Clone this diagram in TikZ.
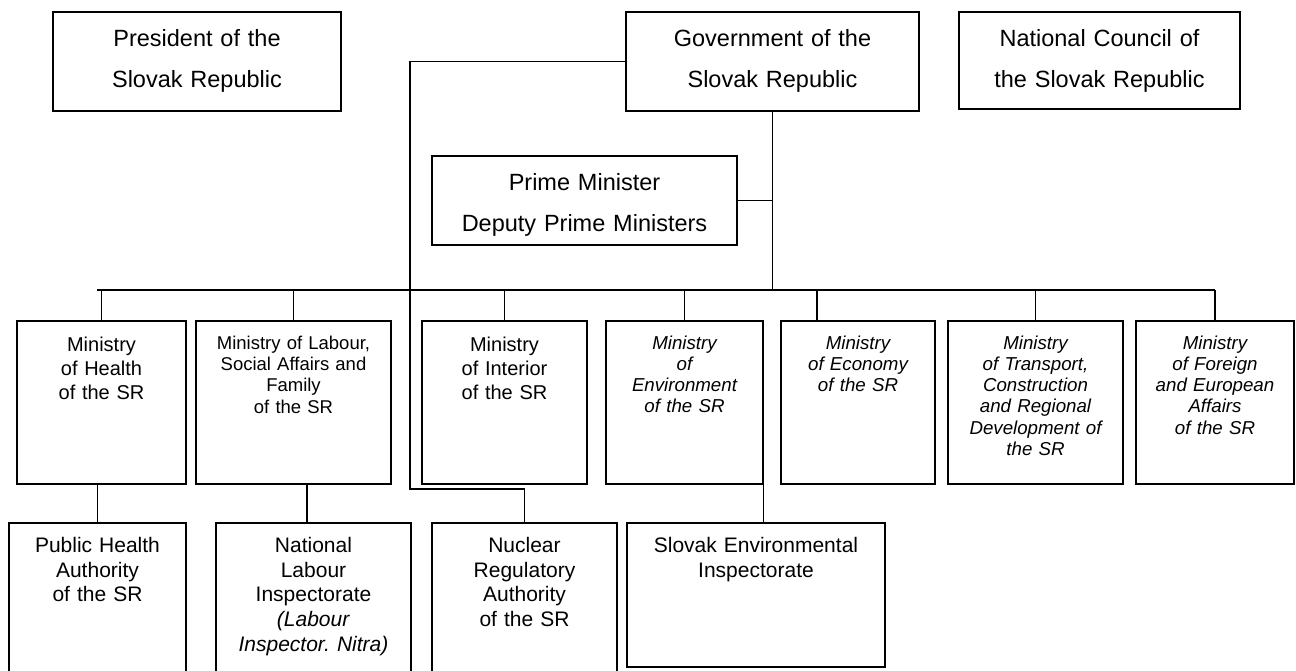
\documentclass[tikz,border=0pt]{standalone}
\usepackage{fontspec}
\setmainfont{Liberation Sans}
\frenchspacing
\begin{document}
\begin{tikzpicture}[x=1pt,y=-1pt,
  box/.style={draw, line width=1.3pt, rectangle, inner sep=0pt},
  lbl/.style={anchor=north, align=center, inner sep=0pt, text width=#1},
  conn/.style={line width=1.3pt},
  ftop/.style={font=\fontsize{23.5}{41}\selectfont},
  fmin/.style={font=\fontsize{20}{24}\selectfont},
  flab/.style={font=\fontsize{18.5}{21.3}\selectfont},
  fit/.style={font=\fontsize{18.7}{21.2}\selectfont\itshape},
  fbot/.style={font=\fontsize{21}{24.75}\selectfont},
]
\useasboundingbox (0,0) rectangle (1296,671);

% top row
\node[box, minimum width=288pt, minimum height=99pt] (pres) at (197,61.5) {};
\node[box, minimum width=293pt, minimum height=99pt] (gov) at (772.5,61.5) {};
\node[box, minimum width=281pt, minimum height=97pt] (nc) at (1099.5,60.5) {};
\node[box, minimum width=305pt, minimum height=89pt] (pm) at (584.5,200.5) {};

% ministries
\node[box, minimum width=169pt, minimum height=163pt] (health) at (101.5,402.5) {};
\node[box, minimum width=195pt, minimum height=163pt] (labour) at (293.5,402.5) {};
\node[box, minimum width=165pt, minimum height=163pt] (interior) at (504.5,402.5) {};
\node[box, minimum width=157pt, minimum height=163pt] (env) at (684.5,402.5) {};
\node[box, minimum width=154pt, minimum height=163pt] (economy) at (858,402.5) {};
\node[box, minimum width=175pt, minimum height=163pt] (transport) at (1035.5,402.5) {};
\node[box, minimum width=158pt, minimum height=163pt] (foreign) at (1215,402.5) {};

% bottom row
\node[box, minimum width=177pt, minimum height=153pt] (pubhealth) at (97.5,599.5) {};
\node[box, minimum width=195pt, minimum height=153pt] (natlabour) at (313.5,599.5) {};
\node[box, minimum width=185pt, minimum height=153pt] (nuclear) at (524.5,599.5) {};
\node[box, minimum width=258pt, minimum height=144pt] (slovenv) at (756,595) {};

% texts
\node[lbl=284pt, ftop] (t-pres) at (197,29) {President of the\\Slovak Republic};
\node[lbl=289pt, ftop] (t-gov) at (772.5,29) {Government of the\\Slovak Republic};
\node[lbl=277pt, ftop] (t-nc) at (1099.5,29) {National Council of\\the Slovak Republic};
\node[lbl=301pt, ftop] (t-pm) at (584.5,173) {Prime Minister\\Deputy Prime Ministers};

\node[lbl=165pt, fmin] (t-health) at (101.5,336.6) {Ministry\\of Health\\of the SR};
\node[lbl=191pt, flab] (t-labour) at (293.5,335.7) {Ministry of Labour,\\Social Affairs and\\Family\\of the SR};
\node[lbl=161pt, fmin] (t-interior) at (504.5,336.6) {Ministry\\of Interior\\of the SR};
\node[lbl=153pt, fit] (t-env) at (684.5,335.5) {Ministry\\of\\Environment\\of the SR};
\node[lbl=150pt, fit] (t-economy) at (858,335.5) {Ministry\\of Economy\\of the SR};
\node[lbl=171pt, fit] (t-transport) at (1035.5,335.5) {Ministry\\of Transport,\\Construction\\and Regional\\Development of\\the SR};
\node[lbl=154pt, fit] (t-foreign) at (1215,335.5) {Ministry\\of Foreign\\and European\\Affairs\\of the SR};

\node[lbl=173pt, fbot] (t-pubhealth) at (97.5,536.9) {Public Health\\Authority\\of the SR};
\node[lbl=191pt, fbot] (t-natlabour) at (313.5,536.9) {National\\Labour\\Inspectorate\\\textit{(Labour}\\\textit{Inspector. Nitra)}};
\node[lbl=181pt, fbot] (t-nuclear) at (524.5,536.9) {Nuclear\\Regulatory\\Authority\\of the SR};
\node[lbl=254pt, fbot] (t-slovenv) at (756,536.9) {Slovak Environmental\\Inspectorate};

% connectors
\coordinate (busL) at (97,290);
\coordinate (busR) at (1215,290);
\coordinate (jog) at (410,489);
\draw[conn] (busL) -- (busR);
\draw[conn] (gov.south) -- (gov.south |- busL);
\draw[conn] (pm.east) -- (pm.east -| gov.south);
\draw[conn] (health.north) -- (health.north |- busL);
\draw[conn] (labour.north) -- (labour.north |- busL);
\draw[conn] (interior.north) -- (interior.north |- busL);
\draw[conn] (env.north) -- (env.north |- busL);
\draw[conn] ([xshift=-41pt]economy.north) -- ([xshift=-41pt]economy.north |- busL);
\draw[conn] (transport.north) -- (transport.north |- busL);
\draw[conn] (foreign.north) -- (foreign.north |- busL);
\draw[conn] (gov.west) -| (jog) -| (nuclear.north);
\draw[conn] (pubhealth.north) -- (pubhealth.north |- health.south);
\draw[conn] ([xshift=-6.5pt]natlabour.north) -- ([xshift=-6.5pt]natlabour.north |- labour.south);
\draw[conn] (env.south east) -- (env.south east |- slovenv.north);
\end{tikzpicture}
\end{document}
